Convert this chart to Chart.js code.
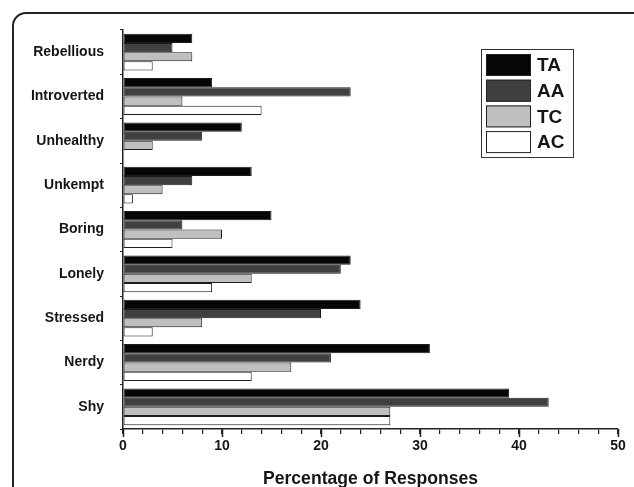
<!DOCTYPE html>
<html>
<head>
<meta charset="utf-8">
<script src="https://cdn.jsdelivr.net/npm/chart.js@4/dist/chart.umd.min.js"></script>
<style>
  html, body { margin: 0; padding: 0; background: #fff; overflow: hidden; }
  #wrap { position: relative; width: 634px; height: 487px; }
  #frame { position: absolute; left: 12px; top: 12px; width: 640px; height: 520px;
           border: 2px solid #222; border-radius: 14px; box-sizing: border-box; }
  canvas { position: absolute; left: 0; top: 0; }
</style>
</head>
<body>
<div id="wrap">
  <div id="frame"></div>
  <canvas id="c" width="634" height="487"></canvas>
</div>
<script>
const categories = ["Rebellious", "Introverted", "Unhealthy", "Unkempt", "Boring", "Lonely", "Stressed", "Nerdy", "Shy"];
const seriesNames = ["TA", "AA", "TC", "AC"];
const taValues = [7, 9, 12, 13, 15, 23, 24, 31, 39];
const aaValues = [5, 23, 8, 7, 6, 22, 20, 21, 43];
const tcValues = [7, 6, 3, 4, 10, 13, 8, 17, 27];
const acValues = [3, 14, 0, 1, 5, 9, 3, 13, 27];
const xMin = 0, xMax = 50, xMinorStep = 2, xMajorStep = 10;
const axisTitle = "Percentage of Responses";

const fills = ["#060606", "#404040", "#bfbfbf", "#ffffff"];
const FONT = "'Liberation Sans', Arial, sans-serif";
const TEXT = '#151515';

const legendPlugin = {
  id: 'boxLegend',
  afterDraw(chart) {
    const ctx = chart.ctx;
    const x0 = 481, y0 = 49, w = 92, h = 108;
    ctx.save();
    ctx.fillStyle = '#fff';
    ctx.fillRect(x0, y0, w, h);
    ctx.strokeStyle = '#333';
    ctx.lineWidth = 1;
    ctx.strokeRect(x0 + 0.5, y0 + 0.5, w, h);
    chart.data.datasets.forEach((ds, i) => {
      const sy = 54 + i * 25.7;
      ctx.fillStyle = ds.backgroundColor;
      ctx.fillRect(486, sy, 45, 22);
      ctx.strokeStyle = '#222';
      ctx.strokeRect(486.5, sy + 0.5, 44, 21);
      ctx.fillStyle = TEXT;
      ctx.font = "bold 19px " + FONT;
      ctx.textBaseline = 'middle';
      ctx.textAlign = 'left';
      ctx.fillText(ds.label, 537, sy + 12);
    });
    ctx.restore();
  }
};

const majorTickPlugin = {
  id: 'majorTicks',
  afterDraw(chart) {
    const sc = chart.scales.x;
    const ctx = chart.ctx;
    ctx.save();
    ctx.strokeStyle = '#222';
    ctx.lineWidth = 1.5;
    for (let v = xMin; v <= xMax; v += xMajorStep) {
      const px = Math.round(sc.getPixelForValue(v)) + 0.5;
      ctx.beginPath();
      ctx.moveTo(px, sc.top);
      ctx.lineTo(px, sc.top + 8);
      ctx.stroke();
    }
    ctx.restore();
  }
};

const vals = [taValues, aaValues, tcValues, acValues];
new Chart(document.getElementById('c'), {
  type: 'bar',
  data: {
    labels: categories,
    datasets: seriesNames.map((n, i) => ({
      label: n,
      data: vals[i],
      backgroundColor: fills[i],
      borderColor: '#1c1c1c',
      borderWidth: 1,
      borderSkipped: false,
      categoryPercentage: 0.83,
      barPercentage: 1.0
    }))
  },
  options: {
    indexAxis: 'y',
    responsive: false,
    animation: false,
    devicePixelRatio: 1,
    layout: { padding: { left: 0, top: 30, right: 16, bottom: 0 } },
    plugins: { legend: { display: false }, tooltip: { enabled: false } },
    scales: {
      y: {
        afterFit(s) { s.width = 123; },
        border: { display: true, color: '#222', width: 1.5 },
        grid: { drawOnChartArea: false, tickLength: 3, color: '#222', offset: true },
        ticks: { color: TEXT, padding: 16, font: { family: FONT, size: 14, weight: 'bold' } }
      },
      x: {
        min: xMin, max: xMax,
        afterFit(s) { s.height = 58; },
        border: { display: true, color: '#222', width: 1.5 },
        grid: { drawOnChartArea: false, tickLength: 5, color: '#222', lineWidth: 1.2 },
        ticks: {
          stepSize: xMinorStep, autoSkip: false, maxRotation: 0, padding: 4, color: TEXT,
          font: { family: FONT, size: 14, weight: 'bold' },
          callback: (v) => (v % xMajorStep === 0 ? String(v) : '')
        },
        title: {
          display: true, text: axisTitle, color: TEXT,
          font: { family: FONT, size: 17.6, weight: 'bold' },
          padding: { top: 4, bottom: -3 }
        }
      }
    }
  },
  plugins: [legendPlugin, majorTickPlugin]
});
</script>
</body>
</html>
